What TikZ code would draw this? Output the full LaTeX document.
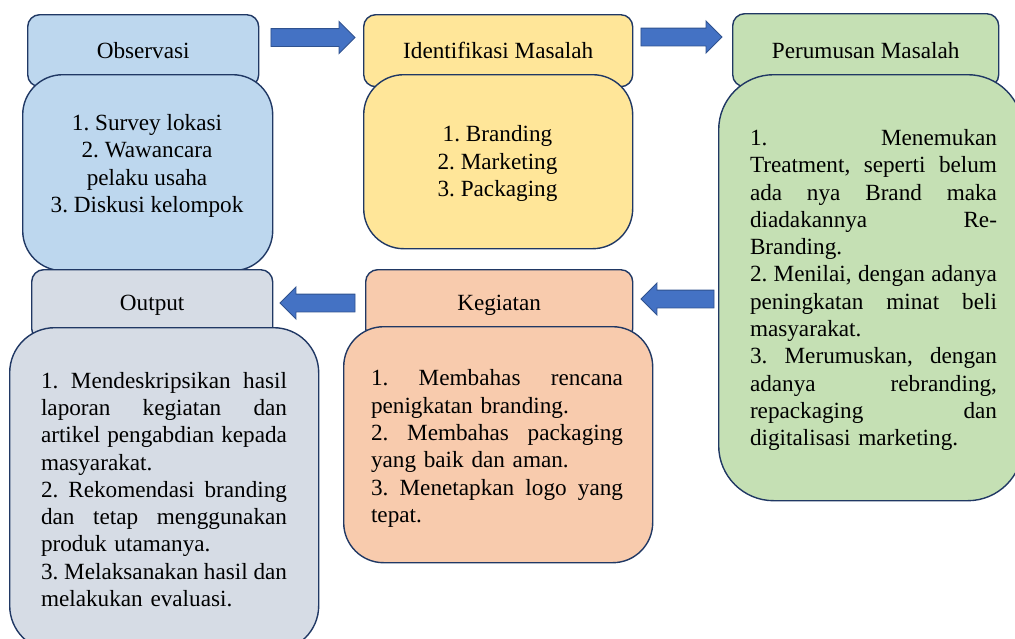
\documentclass[tikz,border=0pt]{standalone}
\usepackage{fontspec}
\setmainfont{Liberation Serif}
\usetikzlibrary{shapes.arrows}
\definecolor{bord}{HTML}{203864}
\definecolor{arrfill}{HTML}{4472C4}
\definecolor{arrbord}{HTML}{2F528F}
\definecolor{cblue}{HTML}{BDD7EE}
\definecolor{cyellow}{HTML}{FFE699}
\definecolor{cgreen}{HTML}{C5E0B4}
\definecolor{cgray}{HTML}{D6DCE5}
\definecolor{cpeach}{HTML}{F8CBAD}
\def\mylw{247pt}
\newcommand{\myJ}[1]{\hbox to \mylw{\spaceskip=0.25em plus 1fil minus 0.1em\xspaceskip=\spaceskip #1}}
\newcommand{\myL}[1]{\hbox to \mylw{#1\hfil}}
\frenchspacing
\begin{document}
\frenchspacing
\begin{tikzpicture}[x=1pt,y=-1pt,
  basefont/.style={font=\fontsize{23.2}{27.3}\selectfont\frenchspacing},
  hdr/.style={draw=bord, line width=1.4pt, rounded corners=12pt, inner sep=0pt, anchor=north west, basefont},
  body/.style={draw=bord, line width=1.4pt, inner sep=0pt, anchor=north west},
  txt/.style={inner sep=0pt, basefont},
  blockarrow/.style={single arrow, draw=arrbord, fill=arrfill, line width=0.9pt,
    inner sep=0pt, text height=8.5pt, text depth=8.5pt,
    single arrow head extend=7pt, single arrow head indent=0pt}]
\useasboundingbox (0,0) rectangle (1015,638);

% Observasi
\node[hdr, fill=cblue, minimum width=231pt, minimum height=72pt] (obsH) at (27,14) {Observasi};
\node[body, fill=cblue, rounded corners=40pt, minimum width=250pt, minimum height=196pt] (obsB) at (22,74) {};
\node[txt, align=center] (obsT) at (147,166) {1. Survey lokasi\\2. Wawancara\\pelaku usaha\\3. Diskusi kelompok};

% Identifikasi Masalah
\node[hdr, fill=cyellow, minimum width=269pt, minimum height=72pt] (idH) at (363,14) {Identifikasi Masalah};
\node[body, fill=cyellow, rounded corners=40pt, minimum width=269pt, minimum height=174pt] (idB) at (363,74) {};
\node[txt, align=center] (idT) at (497.5,163.5) {1. Branding\\2. Marketing\\3. Packaging};

% Perumusan Masalah
\node[hdr, fill=cgreen, minimum width=266pt, minimum height=73pt] (perH) at (732,13) {Perumusan Masalah};
\node[body, fill=cgreen, rounded corners=55pt, minimum width=304pt, minimum height=426pt] (perB) at (718,74) {};
\node[txt, text width=247pt] (perT) at (873.5,290) {\def\mylw{247pt}%
\myJ{1. Menemukan}
\myJ{Treatment, seperti belum}
\myJ{ada nya Brand maka}
\myJ{diadakannya Re-}
\myL{Branding.}
\myJ{2. Menilai, dengan adanya}
\myJ{peningkatan minat beli}
\myL{masyarakat.}
\myJ{3. Merumuskan, dengan}
\myJ{adanya rebranding,}
\myJ{repackaging dan}
\myL{digitalisasi marketing.}};

% Output
\node[hdr, fill=cgray, minimum width=241pt, minimum height=71pt] (outH) at (31,269) {Output};
\node[body, fill=cgray, rounded corners=45pt, minimum width=309pt, minimum height=323pt] (outB) at (9,327) {};
\node[txt, text width=246pt] (outT) at (164,489.5) {\def\mylw{246pt}%
\myJ{1. Mendeskripsikan hasil}
\myJ{laporan kegiatan dan}
\myJ{artikel pengabdian kepada}
\myL{masyarakat.}
\myJ{2. Rekomendasi branding}
\myJ{dan tetap menggunakan}
\myL{produk utamanya.}
\myJ{3. Melaksanakan hasil dan}
\myL{melakukan evaluasi.}};

% Kegiatan
\node[hdr, fill=cpeach, minimum width=267pt, minimum height=71pt] (kegH) at (365,269) {Kegiatan};
\node[body, fill=cpeach, rounded corners=40pt, minimum width=309pt, minimum height=236pt] (kegB) at (343,326) {};
\node[txt, text width=252pt] (kegT) at (497,448.5) {\def\mylw{252pt}%
\myJ{1. Membahas rencana}
\myL{penigkatan branding.}
\myJ{2. Membahas packaging}
\myL{yang baik dan aman.}
\myJ{3. Menetapkan logo yang}
\myL{tepat.}};

% block arrows
\node[blockarrow, minimum height=84pt] (a1) at (308.5,37.5) {};
\node[blockarrow, minimum height=81pt] (a2) at (677,37) {};
\node[blockarrow, minimum height=73pt, shape border rotate=180] (a3) at (682,299) {};
\node[blockarrow, minimum height=75pt, shape border rotate=180] (a4) at (322,303) {};
\end{tikzpicture}
\end{document}
